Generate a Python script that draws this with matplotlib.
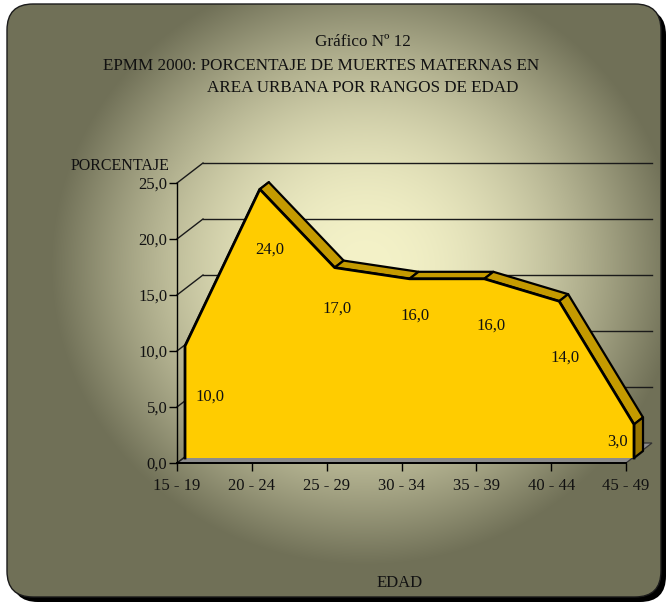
import numpy as np
import matplotlib
matplotlib.use("Agg")
import matplotlib.pyplot as plt
from matplotlib.patches import FancyBboxPatch, Polygon
from matplotlib.lines import Line2D
from matplotlib.transforms import IdentityTransform

# ---- data ----
categories = ["15 - 19", "20 - 24", "25 - 29", "30 - 34", "35 - 39", "40 - 44", "45 - 49"]
values = [10.0, 24.0, 17.0, 16.0, 16.0, 14.0, 3.0]
y_ticks = [0, 5, 10, 15, 20, 25]
title_lines = ["Gráfico Nº 12",
               "EPMM 2000: PORCENTAJE DE MUERTES MATERNAS EN",
               "AREA URBANA POR RANGOS DE EDAD"]
y_title = "PORCENTAJE"
x_title = "EDAD"

# ---- style ----
FONT = "Liberation Serif"
plt.rcParams["font.family"] = [FONT, "DejaVu Serif"]
W, H, DPI = 668, 604, 100

FRONT_FACE = "#FFCC00"
TOP_FACE = "#C49A00"
END_FACE = "#9A7600"
FLOOR = "#8C8C8C"

# oblique depth vectors in display pixels (right, up)
D_FRONT = np.array([8.0, 5.0])
D_BACK = np.array([17.0, 12.0])
D_WALL = np.array([26.0, 20.0])

# offsets of the value labels from each category/value point (display px)
label_offsets = [(33, -46), (18, -55), (10, -36), (14, -32), (15, -42), (14, -51), (-9, -12)]

fig = plt.figure(figsize=(W / DPI, H / DPI), dpi=DPI)

# ---- rounded gradient panel with drop shadow ----
bg = fig.add_axes([0, 0, 1, 1])
bg.set_xlim(0, W)
bg.set_ylim(H, 0)
bg.axis("off")

px0, py0, pw, ph, rad = 7, 4, 654, 593, 26
shadow = FancyBboxPatch((px0 + 5, py0 + 5), pw, ph,
                        boxstyle=f"round,pad=0,rounding_size={rad}",
                        fc="black", ec="none", zorder=0)
bg.add_patch(shadow)
panel = FancyBboxPatch((px0, py0), pw, ph,
                       boxstyle=f"round,pad=0,rounding_size={rad}",
                       fc="none", ec="#1a1a1a", lw=1.0, zorder=3)
bg.add_patch(panel)

# soft fill from a pale centre to olive edges
yy, xx = np.mgrid[0:H, 0:W]
cx, cy, ax_r, ay_r = 365.0, 265.0, 315.0, 300.0
s2 = ((xx - cx) / ax_r) ** 2 + ((yy - cy) / ay_r) ** 2
f = np.clip(1.0 - s2, 0, 1) ** 1.1
dark = np.array([0x70, 0x70, 0x57]) / 255.0
light = np.array([0xF4, 0xF2, 0xC8]) / 255.0
img = dark[None, None, :] + (light - dark)[None, None, :] * f[..., None]
im = bg.imshow(img, extent=(0, W, H, 0), origin="upper", zorder=1, interpolation="bilinear")
clip = FancyBboxPatch((px0, py0), pw, ph, boxstyle=f"round,pad=0,rounding_size={rad}",
                      fc="none", ec="none", transform=bg.transData)
im.set_clip_path(clip)

# ---- chart axes ----
ax = fig.add_axes([177 / W, (H - 463) / H, (626 - 177) / W, (463 - 183) / H])
ax.set_xlim(0, len(categories) - 1)
ax.set_ylim(0, 25)
ax.patch.set_visible(False)
for s in ("top", "right"):
    ax.spines[s].set_visible(False)
ax.spines["left"].set_linewidth(1.0)
ax.spines["bottom"].set_linewidth(1.4)
ax.spines["left"].set_zorder(6)
ax.spines["bottom"].set_zorder(6)

ax.set_yticks(y_ticks)
ax.set_yticklabels([f"{v:.1f}".replace(".", ",") for v in y_ticks])
ax.set_xticks(range(len(categories)))
ax.set_xticklabels(categories)
ax.tick_params(direction="out", length=5.5, width=1.0, color="black",
               labelsize=12, labelcolor="#111111")
ax.tick_params(axis="y", pad=1.5)
ax.tick_params(axis="x", pad=5)

ident = IdentityTransform()


def proj(x, y, depth):
    """Display position of a data point pushed back by an oblique depth vector."""
    return ax.transData.transform((x, y)) + depth


def seg(p, q, **kw):
    ln = Line2D([p[0], q[0]], [p[1], q[1]], transform=ident, clip_on=False, **kw)
    ax.add_line(ln)


xmax = len(categories) - 1
zero = np.zeros(2)

# floor
floor = Polygon([proj(0, 0, zero), proj(xmax, 0, zero), proj(xmax, 0, D_WALL), proj(0, 0, D_WALL)],
                closed=True, fc=FLOOR, ec="#333333", lw=0.9, transform=ident,
                clip_on=False, zorder=1)
ax.add_patch(floor)

# wall gridlines: left wall diagonals and back wall horizontals
for v in y_ticks:
    seg(proj(0, v, zero), proj(0, v, D_WALL), color="#1a1a1a", lw=1.0, zorder=1.5)
    if v > 0:
        seg(proj(0, v, D_WALL), proj(xmax, v, D_WALL), color="#1a1a1a", lw=1.0, zorder=1.5)

# ---- 3D area ribbon ----
xs = np.arange(len(values))
F = [proj(x, v, D_FRONT) for x, v in zip(xs, values)]
B = [proj(x, v, D_BACK) for x, v in zip(xs, values)]
F0 = [proj(x, 0, D_FRONT) for x in xs]
B0 = [proj(x, 0, D_BACK) for x in xs]

for i in range(len(values) - 1):
    ax.add_patch(Polygon([F[i], F[i + 1], B[i + 1], B[i]], closed=True, fc=TOP_FACE,
                         ec="black", lw=1.6, joinstyle="round", transform=ident,
                         clip_on=False, zorder=3))
ax.add_patch(Polygon([F[-1], F0[-1], B0[-1], B[-1]], closed=True, fc=END_FACE,
                     ec="black", lw=1.6, joinstyle="round", transform=ident,
                     clip_on=False, zorder=3))
ax.add_patch(Polygon([F0[0]] + F + [F0[-1]], closed=True, fc=FRONT_FACE, ec="none",
                     transform=ident, clip_on=False, zorder=4))
outline = np.array([F0[0]] + F + [F0[-1]])
ax.add_line(Line2D(outline[:, 0], outline[:, 1], color="black", lw=2.0,
                   solid_joinstyle="round", transform=ident, clip_on=False, zorder=5))

# value labels
for i, v in enumerate(values):
    ax.annotate(f"{v:.1f}".replace(".", ","), xy=(i, v), xytext=label_offsets[i],
                textcoords="offset pixels", ha="center", va="center",
                fontsize=12, color="#111111", zorder=7, annotation_clip=False)

# ---- titles ----
for (tx, ty), line in zip([(363, 42), (321, 66), (363, 88)], title_lines):
    fig.text(tx / W, 1 - ty / H, line, ha="center", va="center", fontsize=12.3, color="#111111")
fig.text(120 / W, 1 - 166 / H, y_title, ha="center", va="center", fontsize=11.5, color="#111111")
fig.text(400 / W, 1 - 583 / H, x_title, ha="center", va="center", fontsize=12, color="#111111")

fig.savefig("out.png", dpi=DPI)
